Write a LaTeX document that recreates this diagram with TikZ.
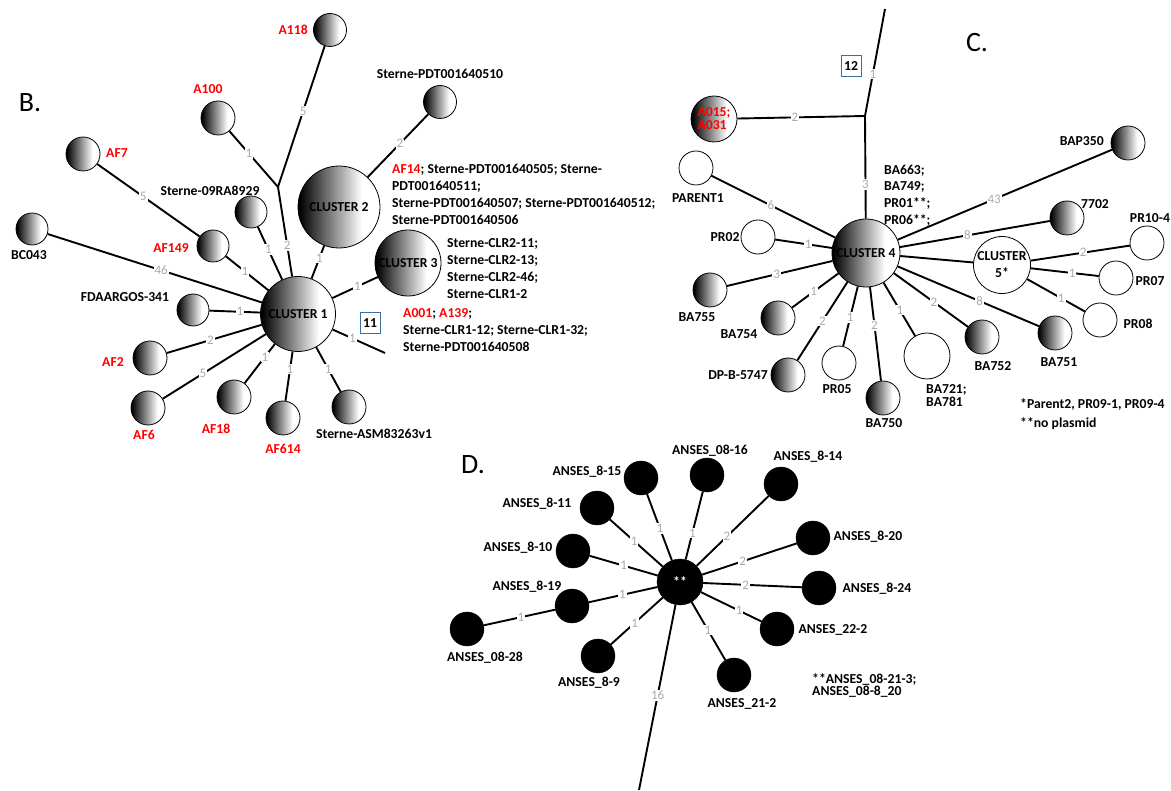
\documentclass[tikz,border=0pt]{standalone}
\usepackage{fontspec}
\setmainfont{Carlito}
\pgfdeclarehorizontalshading{bwshade}{100bp}{color(0bp)=(black); color(26bp)=(black); color(64bp)=(white); color(100bp)=(white)}
\definecolor{lblgray}{RGB}{170,170,170}
\definecolor{boxblue}{RGB}{60,110,160}
\tikzset{
  lab/.style={font=\fontsize{13.7}{17}\selectfont\bfseries, inner sep=0pt},
  gn/.style={circle, draw=black, line width=0.8pt, shade, shading=bwshade, inner sep=0pt, minimum size=34pt, lab},
  wn/.style={circle, draw=black, line width=0.8pt, fill=white, inner sep=0pt, minimum size=34pt, lab},
  bn/.style={circle, draw=black, fill=black, inner sep=0pt, minimum size=34pt, lab},
  edge/.style={line width=1.9pt, black},
  num/.style={font=\fontsize{13}{13}\selectfont, text=lblgray, fill=white, inner sep=1pt},
  panel/.style={font=\fontsize{28}{28}\selectfont, inner sep=0pt},
  idbox/.style={draw=boxblue, line width=0.8pt, lab, minimum width=20pt, minimum height=21pt, inner sep=0pt}
}
\begin{document}
\begin{tikzpicture}[x=1pt, y=-1pt]
\useasboundingbox (0,0) rectangle (1171,791);

% ---------------- Panel B ----------------
\node[panel] (bt) at (30,103) {B.};
\node[gn, minimum size=33pt] (a118) at (330,30) {};
\node[lab, text=red, anchor=east] (a118t) at (308,30) {A118};
\node[gn] (a100) at (218,118) {};
\node[lab, text=red] (a100t) at (208,89) {A100};
\node[gn] (af7) at (83,154) {};
\node[lab, text=red, anchor=west] (af7t) at (106,153) {AF7};
\node[gn, minimum size=32pt] (bc043) at (32,229) {};
\node[lab] (bc043t) at (29,255) {BC043};
\node[gn, minimum size=32pt] (s09) at (251,212) {};
\node[lab] (s09t) at (210,191) {Sterne-09RA8929};
\node[gn, minimum size=32pt] (af149) at (213,246) {};
\node[lab, text=red] (af149t) at (171,248) {AF149};
\node[gn, minimum size=82pt] (c2) at (339,207) {CLUSTER 2};
\node[gn, minimum size=33pt] (p510) at (440,102) {};
\node[lab] (p510t) at (440,74) {Sterne-PDT001640510};
\node[lab, anchor=north west, align=left] (c2t) at (392,163.5) {\textcolor{red}{AF14}; Sterne-PDT001640505; Sterne-\\PDT001640511;\\Sterne-PDT001640507; Sterne-PDT001640512;\\Sterne-PDT001640506};
\node[gn, minimum size=66pt] (c3) at (408,263) {CLUSTER 3};
\node[lab, anchor=north west, align=left] (c3t) at (447,238.5) {Sterne-CLR2-11;\\Sterne-CLR2-13;\\Sterne-CLR2-46;\\Sterne-CLR1-2};
\node[gn, minimum size=75pt] (c1) at (298,314) {CLUSTER 1};
\node[idbox] (b11) at (370,323) {11};
\coordinate (e1) at (385,353);
\coordinate (j1) at (278,187);
\node[lab, anchor=north west, align=left] (c1t) at (403,308.5) {\textcolor{red}{A001}; \textcolor{red}{A139};\\Sterne-CLR1-12; Sterne-CLR1-32;\\Sterne-PDT001640508};
\node[gn, minimum size=32pt] (fda) at (193,310) {};
\node[lab] (fdat) at (125,297) {FDAARGOS-341};
\node[gn] (af2) at (150,358) {};
\node[lab, text=red] (af2t) at (113,362) {AF2};
\node[gn] (af6) at (148,408) {};
\node[lab, text=red] (af6t) at (144,435) {AF6};
\node[gn] (af18) at (234,397) {};
\node[lab, text=red] (af18t) at (216,429) {AF18};
\node[gn] (af614) at (283,418) {};
\node[lab, text=red] (af614t) at (283,449) {AF614};
\node[gn] (asm) at (349,407) {};
\node[lab, anchor=west] (asmt) at (316,434) {Sterne-ASM83263v1};

\draw[edge] (j1) -- node[num, pos=0.54] {5} (a118);
\draw[edge] (j1) -- node[num, pos=0.60] {1} (a100);
\draw[edge] (c1) -- node[num, pos=0.345] {2} (j1);
\draw[edge] (af149) -- node[num, pos=0.55] {5} (af7);
\draw[edge] (c1) -- node[num, pos=0.55] {1} (af149);
\draw[edge] (c1) -- node[num, pos=0.57] {1} (s09);
\draw[edge] (c1) -- node[num, pos=0.62] {1} (c2);
\draw[edge] (c2) -- node[num, pos=0.53] {2} (p510);
\draw[edge] (c1) -- node[num, pos=0.55] {1} (c3);
\draw[edge] (c1) -- node[num, pos=0.38] {1} (e1);
\draw[edge] (c1) -- node[num, pos=0.47] {46} (bc043);
\draw[edge] (c1) -- node[num, pos=0.40] {1} (fda);
\draw[edge] (c1) -- node[num, pos=0.54] {2} (af2);
\draw[edge] (c1) -- node[num, pos=0.61] {5} (af6);
\draw[edge] (c1) -- node[num, pos=0.33] {1} (af18);
\draw[edge] (c1) -- node[num, pos=0.36] {1} (af614);
\draw[edge] (c1) -- node[num, pos=0.49] {1} (asm);

% ---------------- Panel C ----------------
\node[panel] (ct) at (977,43) {C.};
\coordinate (t2) at (885,9);
\coordinate (j2) at (865,116);
\node[idbox] (b12) at (851,66) {12};
\node[gn, minimum size=46pt, text=red, align=left, font=\fontsize{13.7}{13}\selectfont\bfseries] (a015) at (714,119) {A015;\\A031};
\node[gn, minimum size=68pt] (c4) at (866,253) {CLUSTER 4};
\node[lab, anchor=north west, align=left, font=\fontsize{13.7}{16.7}\selectfont\bfseries] (c4t) at (884,164.5) {BA663;\\BA749;\\PR01**;\\PR06**;};
\node[wn] (parent1) at (696,168) {};
\node[lab] (parent1t) at (698,198) {PARENT1};
\node[wn] (pr02) at (758,237) {};
\node[lab] (pr02t) at (725,237) {PR02};
\node[gn] (ba755) at (710,290) {};
\node[lab] (ba755t) at (697,317) {BA755};
\node[gn] (ba754) at (778,318) {};
\node[lab] (ba754t) at (739,334) {BA754};
\node[gn] (dpb) at (788,375) {};
\node[lab, anchor=east] (dpbt) at (768,375) {DP-B-5747};
\node[wn] (pr05) at (839,363) {};
\node[lab] (pr05t) at (837,389) {PR05};
\node[gn] (ba750) at (883,398) {};
\node[lab] (ba750t) at (884,423) {BA750};
\node[wn, minimum size=46pt] (ba721) at (927,356) {};
\node[lab, anchor=north west, align=left, font=\fontsize{13.7}{12.5}\selectfont\bfseries] (ba721t) at (926,384.6) {BA721;\\BA781};
\node[gn] (ba752) at (982,337) {};
\node[lab] (ba752t) at (993,366) {BA752};
\node[gn] (ba751) at (1055,333) {};
\node[lab] (ba751t) at (1059,362) {BA751};
\node[wn, minimum size=57pt, align=center] (c5) at (1002,265) {CLUSTER\\5*};
\node[gn] (n7702) at (1067,218) {};
\node[lab] (n7702t) at (1095,204) {7702};
\node[gn] (bap350) at (1128,143) {};
\node[lab, anchor=east] (bap350t) at (1104,141) {BAP350};
\node[wn] (pr104) at (1147,243) {};
\node[lab] (pr104t) at (1150,218) {PR10-4};
\node[wn] (pr07) at (1116,278) {};
\node[lab] (pr07t) at (1150,281) {PR07};
\node[wn] (pr08) at (1100,320) {};
\node[lab] (pr08t) at (1138,324) {PR08};
\node[lab, anchor=north west, align=left, font=\fontsize{13.7}{18.5}\selectfont\bfseries] (cfoot) at (1020,398.6) {*Parent2, PR09-1, PR09-4\\**no plasmid};

\draw[edge] (j2) -- node[num, pos=0.39] {1} (t2);
\draw[edge] (j2) -- node[num, pos=0.55] {2} (a015);
\draw[edge] (c4) -- node[num, pos=0.33] {3} (j2);
\draw[edge] (c4) -- node[num, pos=0.52] {6} (parent1);
\draw[edge] (c4) -- node[num, pos=0.42] {1} (pr02);
\draw[edge] (c4) -- node[num, pos=0.53] {3} (ba755);
\draw[edge] (c4) -- node[num, pos=0.53] {1} (ba754);
\draw[edge] (c4) -- node[num, pos=0.50] {2} (dpb);
\draw[edge] (c4) -- node[num, pos=0.52] {1} (pr05);
\draw[edge] (c4) -- node[num, pos=0.41] {2} (ba750);
\draw[edge] (c4) -- node[num, pos=0.52] {1} (ba721);
\draw[edge] (c4) -- node[num, pos=0.54] {2} (ba752);
\draw[edge] (c4) -- node[num, pos=0.58] {8} (ba751);
\draw[edge] (c4) -- (c5);
\draw[edge] (c4) -- node[num, pos=0.45] {8} (n7702);
\draw[edge] (c4) -- node[num, pos=0.45] {43} (bap350);
\draw[edge] (c5) -- node[num, pos=0.53] {2} (pr104);
\draw[edge] (c5) -- node[num, pos=0.61] {1} (pr07);
\draw[edge] (c5) -- node[num, pos=0.59] {1} (pr08);

% ---------------- Panel D ----------------
\node[panel] (dt) at (473,465) {D.};
\node[bn, minimum size=46pt, text=white] (hub) at (680,582) {**};
\node[bn] (d815) at (641,478) {};
\node[lab] (d815t) at (587,472) {ANSES\_8-15};
\node[bn] (d0816) at (707,475) {};
\node[lab] (d0816t) at (710,451) {ANSES\_08-16};
\node[bn] (d814) at (781,484) {};
\node[lab] (d814t) at (808,457) {ANSES\_8-14};
\node[bn] (d811) at (597,508) {};
\node[lab] (d811t) at (537,504) {ANSES\_8-11};
\node[bn] (d810) at (573,551) {};
\node[lab] (d810t) at (518,548) {ANSES\_8-10};
\node[bn] (d819) at (572,606) {};
\node[lab] (d819t) at (527,587) {ANSES\_8-19};
\node[bn] (d0828) at (467,629) {};
\node[lab] (d0828t) at (485,658) {ANSES\_08-28};
\node[bn] (d89) at (598,656) {};
\node[lab] (d89t) at (589,683) {ANSES\_8-9};
\node[bn] (d212) at (734,675) {};
\node[lab] (d212t) at (742,704) {ANSES\_21-2};
\node[bn] (d222) at (777,629) {};
\node[lab] (d222t) at (833,630) {ANSES\_22-2};
\node[bn] (d824) at (819,588) {};
\node[lab] (d824t) at (877,589) {ANSES\_8-24};
\node[bn] (d820) at (813,538) {};
\node[lab] (d820t) at (868,537) {ANSES\_8-20};
\coordinate (e3) at (639,790);
\node[lab, anchor=north west, align=left, font=\fontsize{13.7}{11}\selectfont\bfseries] (dfoot) at (812,673.6) {**ANSES\_08-21-3;\\ANSES\_08-8\_20};

\draw[edge] (hub) -- node[num, pos=0.48] {1} (d815);
\draw[edge] (hub) -- node[num, pos=0.39] {1} (d0816);
\draw[edge] (hub) -- node[num, pos=0.42] {2} (d814);
\draw[edge] (hub) -- node[num, pos=0.54] {1} (d811);
\draw[edge] (hub) -- node[num, pos=0.50] {1} (d810);
\draw[edge] (hub) -- node[num, pos=0.51] {1} (d819);
\draw[edge] (d819) -- node[num, pos=0.48] {1} (d0828);
\draw[edge] (hub) -- node[num, pos=0.54] {1} (d89);
\draw[edge] (hub) -- node[num, pos=0.48] {1} (d212);
\draw[edge] (hub) -- node[num, pos=0.63] {1} (d222);
\draw[edge] (hub) -- node[num, pos=0.43] {2} (d824);
\draw[edge] (hub) -- node[num, pos=0.43] {2} (d820);
\draw[edge] (hub) -- node[num, pos=0.49] {16} (e3);
\end{tikzpicture}
\end{document}
